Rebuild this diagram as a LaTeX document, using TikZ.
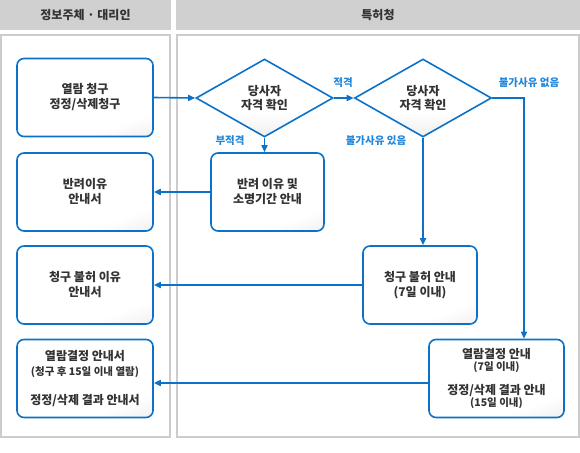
\documentclass[tikz,border=0pt]{standalone}
\usepackage{fontspec}
\newfontfamily\kr{Noto Sans CJK KR}
\usepackage{tikz}
\usetikzlibrary{arrows.meta,calc,shapes.geometric}
\definecolor{INK}{HTML}{333333}
\definecolor{BLUE}{HTML}{0B72C8}
\definecolor{LBL}{HTML}{2187DD}
\definecolor{HEAD}{HTML}{D0D0D0}
\definecolor{FRAME}{HTML}{CCCCCC}
\pgfdeclareverticalshading{boxshade}{100bp}{color(0bp)=(black!14); color(30bp)=(white); color(100bp)=(white)}
\pgfdeclareverticalshading{diashade}{100bp}{color(0bp)=(black!18); color(40bp)=(white); color(100bp)=(white)}

\begin{document}
\begin{tikzpicture}[x=1pt,y=-1pt]
\tikzset{hdr/.style={fill=HEAD,draw=none},panel/.style={draw=FRAME,line width=2pt},
 box/.style={draw=BLUE,line width=1.6pt,rounded corners=7pt,shading=boxshade,shading angle=20,
  align=center,text=INK,font=\kr\bfseries\fontsize{12}{15}\selectfont,inner sep=0pt,minimum height=78pt},
 dia/.style={diamond,draw=BLUE,line width=1.6pt,shading=diashade,
  aspect=1.75,inner sep=0pt,minimum width=137pt,minimum height=78pt,align=center,text=INK,
  font=\kr\bfseries\fontsize{12}{14}\selectfont},
 flow/.style={BLUE,line width=1.6pt,-{Triangle[length=7pt,width=6pt]}},
 lbl/.style={text=LBL,font=\kr\bfseries\fontsize{10.5}{12}\selectfont},
 ttl/.style={text=INK,font=\kr\bfseries\fontsize{12}{14}\selectfont}}
\useasboundingbox (0,0) rectangle (580,452);
% headers and lanes
\fill[hdr] (0,0) rectangle (171,30);
\fill[hdr] (176,0) rectangle (580,30);
\node[ttl] (hleft) at (85.5,15) {정보주체 · 대리인};
\node[ttl] (hright) at (378,15) {특허청};
\draw[panel] (1,35.5) rectangle (170,437);
\draw[panel] (177,35.5) rectangle (579,437);
% left lane
\node[box,minimum width=136pt] (req) at (85,97.5) {열람 청구\\정정/삭제청구};
\node[box,minimum width=136pt] (rej) at (85,192) {반려이유\\안내서};
\node[box,minimum width=136pt] (deny) at (85,285) {청구 불허 이유\\안내서};
\node[box,minimum width=136pt] (res) at (85,378.5) {열람결정 안내서\\{\fontsize{10.5}{14}\selectfont(청구 후 15일 이내 열람)}\\[14pt]정정/삭제 결과 안내서};
% right lane
\node[dia] (chk1) at (264.5,98) {당사자\\자격 확인};
\node[dia] (chk2) at (423,98) {당사자\\자격 확인};
\node[box,minimum width=113pt] (rejr) at (267.5,192) {반려 이유 및\\소명기간 안내};
\node[box,minimum width=114pt] (denyr) at (420,285) {청구 불허 안내\\(7일 이내)};
\node[box,minimum width=135pt,font=\kr\bfseries\fontsize{12}{12}\selectfont] (resr) at (496.5,378.5) {열람결정 안내\\{\fontsize{10.5}{12}\selectfont(7일 이내)}\\[11.5pt]정정/삭제 결과 안내\\{\fontsize{10.5}{12}\selectfont(15일 이내)}};
\coordinate (turn) at (524,98);
% connectors
\draw[flow] (req.east) -- (chk1.west);
\draw[flow] (chk1.east) -- (chk2.west);
\draw[flow] (chk1.south) -- (chk1.south |- rejr.north);
\draw[flow] (rejr.west) -- (rej.east);
\draw[flow] (chk2.south) -- (chk2.south |- denyr.north);
\draw[flow] (denyr.west) -- (deny.east);
\draw[flow] (chk2.east) -- (turn) -- (turn |- resr.north);
\draw[flow] ([yshift=-4.5pt]resr.west) -- ([yshift=-4.5pt]res.east);
% labels
\node[lbl] (ok) at (343,83) {적격};
\node[lbl] (nok) at (230,141) {부적격};
\node[lbl] (yes) at (376,141) {불가사유 있음};
\node[lbl] (no) at (529,83) {불가사유 없음};
\end{tikzpicture}
\end{document}
